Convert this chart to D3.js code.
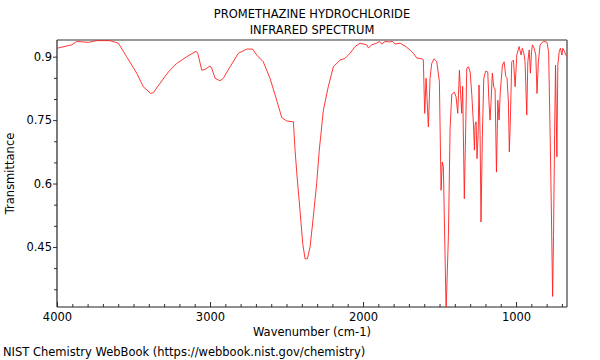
<!DOCTYPE html>
<html>
<head>
<meta charset="utf-8">
<script src="https://cdn.jsdelivr.net/npm/d3@7"></script>
<style>
  body { margin: 0; background: #fff; }
  svg text { font-family: "DejaVu Sans", sans-serif; fill: #000; }
  .axis path { display: none; }
  .axis line { stroke: #333; }
</style>
</head>
<body>
<svg id="chart" width="600" height="360"></svg>
<script>
var titleLines = ['PROMETHAZINE HYDROCHLORIDE', 'INFRARED SPECTRUM'];
var xMajorTicks = [4000, 3000, 2000, 1000];
var yMajorTicks = [0.9, 0.75, 0.6, 0.45];
var FONT = '11.5px';

// wavenumber (cm-1)
var wavenumber = [
	4000, 3904, 3871, 3795, 3741, 3654, 3599, 3545, 3479, 3436, 3388, 3370, 3327, 3272, 3218, 3152,
	3091, 3080, 3054, 3033, 3000, 2989, 2967, 2935, 2913, 2869, 2815, 2760, 2721, 2695, 2652, 2608,
	2564, 2531, 2499, 2455, 2444, 2431, 2412, 2394, 2379, 2364, 2346, 2325, 2303, 2286, 2259, 2227,
	2194, 2150, 2118, 2085, 2052, 2020, 1976, 1965, 1943, 1911, 1893, 1878, 1856, 1835, 1806, 1791,
	1758, 1725, 1693, 1671, 1649, 1616, 1606, 1597, 1588, 1573, 1562, 1551, 1536, 1518, 1501, 1490,
	1482, 1475, 1457, 1442, 1431, 1420, 1403, 1392, 1381, 1370, 1362, 1355, 1349, 1338, 1327, 1322,
	1311, 1300, 1289, 1278, 1272, 1268, 1261, 1255, 1248, 1242, 1235, 1229, 1220, 1211, 1198, 1185,
	1177, 1170, 1163, 1155, 1146, 1137, 1128, 1119, 1111, 1103, 1089, 1078, 1067, 1059, 1050, 1044,
	1038, 1028, 1017, 1006, 995, 980, 967, 959, 949, 941, 930, 923, 914, 906, 899, 893,
	882, 871, 863, 854, 843, 820, 798, 787, 776, 770, 761, 755, 748, 742, 733, 727,
	718, 710, 700, 694, 683, 674, 667
];
var transmittance = [
	0.920, 0.928, 0.936, 0.934, 0.938, 0.938, 0.932, 0.900, 0.861, 0.829, 0.813, 0.815, 0.837, 0.864, 0.884, 0.900,
	0.913, 0.908, 0.868, 0.870, 0.878, 0.873, 0.849, 0.843, 0.849, 0.876, 0.908, 0.918, 0.918, 0.904, 0.888, 0.849,
	0.797, 0.756, 0.748, 0.746, 0.678, 0.616, 0.537, 0.458, 0.422, 0.422, 0.450, 0.521, 0.600, 0.679, 0.774, 0.829,
	0.876, 0.892, 0.896, 0.908, 0.924, 0.932, 0.928, 0.921, 0.928, 0.932, 0.936, 0.930, 0.936, 0.935, 0.936, 0.930,
	0.932, 0.925, 0.916, 0.908, 0.897, 0.895, 0.893, 0.766, 0.849, 0.734, 0.849, 0.884, 0.895, 0.888, 0.841, 0.584,
	0.651, 0.639, 0.300, 0.477, 0.730, 0.811, 0.816, 0.805, 0.766, 0.868, 0.810, 0.766, 0.830, 0.564, 0.770, 0.873,
	0.876, 0.864, 0.809, 0.738, 0.679, 0.738, 0.746, 0.659, 0.714, 0.833, 0.714, 0.509, 0.714, 0.849, 0.866, 0.864,
	0.793, 0.750, 0.795, 0.861, 0.829, 0.823, 0.627, 0.797, 0.750, 0.817, 0.880, 0.888, 0.853, 0.850, 0.793, 0.675,
	0.738, 0.888, 0.892, 0.829, 0.904, 0.924, 0.904, 0.920, 0.908, 0.888, 0.762, 0.888, 0.916, 0.861, 0.912, 0.928,
	0.920, 0.904, 0.813, 0.888, 0.928, 0.937, 0.934, 0.912, 0.691, 0.556, 0.333, 0.477, 0.714, 0.880, 0.663, 0.880,
	0.912, 0.920, 0.904, 0.920, 0.912, 0.904, 0.900
];

var spectrum = wavenumber.map(function(w, i) {
	return { w: w, t: transmittance[i] };
});

var svg = d3.select('#chart'),
	margin = { top: 40, right: 33, bottom: 53, left: 57 },
	width = 600 - margin.left - margin.right,
	height = 360 - margin.top - margin.bottom;

var x = d3.scaleLinear().domain([4000, 667]).range([0, width]);
var y = d3.scaleLinear().domain([0.308, 0.9395]).range([height, 0]);

var g = svg.append('g').attr('transform', 'translate(' + margin.left + ',' + margin.top + ')');

// titles
titleLines.forEach(function(t, i) {
	svg.append('text')
		.attr('x', margin.left + width / 2)
		.attr('y', 18 + i * 16)
		.attr('text-anchor', 'middle')
		.style('font-size', FONT)
		.text(t);
});

// minor + major x ticks (pointing in)
var xMinor = d3.range(700, 4001, 100).filter(function(d) { return d % 1000 != 0; });
g.append('g').attr('class', 'axis').attr('transform', 'translate(0,' + height + ')')
	.call(d3.axisBottom(x).tickValues(xMinor).tickSize(-3).tickFormat(''));
g.append('g').attr('class', 'axis x').attr('transform', 'translate(0,' + height + ')')
	.call(d3.axisBottom(x).tickValues(xMajorTicks).tickSize(-5).tickPadding(6).tickFormat(d3.format('d')));

// y ticks (pointing out)
var yMinor = [0.35, 0.4, 0.5, 0.55, 0.65, 0.7, 0.8, 0.85];
g.append('g').attr('class', 'axis')
	.call(d3.axisLeft(y).tickValues(yMinor).tickSize(3).tickFormat(''));
g.append('g').attr('class', 'axis y')
	.call(d3.axisLeft(y).tickValues(yMajorTicks).tickSize(4).tickPadding(1).tickFormat(function(d) { return String(d); }));

g.selectAll('.axis text').style('font-size', FONT);

// frame
g.append('line').attr('x1', 0).attr('x2', width).attr('y1', 0).attr('y2', 0)
	.attr('stroke', '#999').attr('stroke-width', 2);
g.append('line').attr('x1', width).attr('x2', width).attr('y1', 0).attr('y2', height)
	.attr('stroke', '#666').attr('stroke-width', 1.5);
g.append('line').attr('x1', 0).attr('x2', 0).attr('y1', 0).attr('y2', height)
	.attr('stroke', '#222').attr('stroke-width', 1.2);
g.append('line').attr('x1', 0).attr('x2', width).attr('y1', height).attr('y2', height)
	.attr('stroke', '#222').attr('stroke-width', 1.2);

// spectrum
g.append('clipPath').attr('id', 'clip').append('rect')
	.attr('width', width).attr('height', height);

var line = d3.line()
	.x(function(d) { return x(d.w); })
	.y(function(d) { return y(d.t); });

g.append('path')
	.datum(spectrum)
	.attr('clip-path', 'url(#clip)')
	.attr('fill', 'none')
	.attr('stroke', '#ff2020')
	.attr('stroke-width', 0.9)
	.attr('d', line);

// axis labels
svg.append('text')
	.attr('x', margin.left + width / 2)
	.attr('y', 336)
	.attr('text-anchor', 'middle')
	.style('font-size', FONT)
	.text('Wavenumber (cm-1)');

svg.append('text')
	.attr('transform', 'translate(14,' + (margin.top + height / 2) + ') rotate(-90)')
	.attr('text-anchor', 'middle')
	.style('font-size', FONT)
	.text('Transmittance');

svg.append('text')
	.attr('x', 3)
	.attr('y', 356)
	.style('font-size', FONT)
	.text('NIST Chemistry WebBook (https://webbook.nist.gov/chemistry)');
</script>
</body>
</html>
